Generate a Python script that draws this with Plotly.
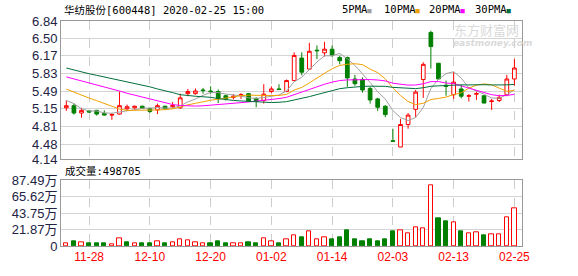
import plotly.graph_objects as go

# ---------------- data ----------------
dates = [
    "2019-11-25", "2019-11-26", "2019-11-27", "2019-11-28", "2019-11-29",
    "2019-12-02", "2019-12-03", "2019-12-04", "2019-12-05", "2019-12-06",
    "2019-12-09", "2019-12-10", "2019-12-11", "2019-12-12", "2019-12-13",
    "2019-12-16", "2019-12-17", "2019-12-18", "2019-12-19", "2019-12-20",
    "2019-12-23", "2019-12-24", "2019-12-25", "2019-12-26", "2019-12-27",
    "2019-12-30", "2019-12-31", "2020-01-02", "2020-01-03", "2020-01-06",
    "2020-01-07", "2020-01-08", "2020-01-09", "2020-01-10", "2020-01-13",
    "2020-01-14", "2020-01-15", "2020-01-16", "2020-01-17", "2020-01-20",
    "2020-01-21", "2020-01-22", "2020-01-23", "2020-02-03", "2020-02-04",
    "2020-02-05", "2020-02-06", "2020-02-07", "2020-02-10", "2020-02-11",
    "2020-02-12", "2020-02-13", "2020-02-14", "2020-02-17", "2020-02-18",
    "2020-02-19", "2020-02-20", "2020-02-21", "2020-02-24", "2020-02-25",
]
open_ = [5.17, 5.21, 5.07, 5.11, 5.12, 5.06, 5.03, 5.05, 5.15, 5.17,
         5.20, 5.15, 5.13, 5.20, 5.19, 5.17, 5.44, 5.44, 5.51, 5.49,
         5.48, 5.40, 5.37, 5.40, 5.44, 5.35, 5.31, 5.48, 5.53, 5.48,
         5.69, 6.12, 5.91, 6.27, 6.22, 6.29, 6.13, 6.13, 5.72, 5.71,
         5.54, 5.34, 5.20, 4.54, 4.42, 4.85, 5.14, 5.71, 6.61, 6.02,
         5.60, 5.42, 5.53, 5.39, 5.43, 5.40, 5.29, 5.31, 5.42, 5.72]
high = [5.31, 5.25, 5.17, 5.13, 5.13, 5.12, 5.07, 5.48, 5.23, 5.21,
        5.21, 5.17, 5.25, 5.21, 5.28, 5.44, 5.53, 5.54, 5.55, 5.58,
        5.52, 5.42, 5.43, 5.45, 5.45, 5.37, 5.62, 5.58, 5.62, 5.71,
        6.23, 6.23, 6.41, 6.36, 6.43, 6.36, 6.17, 6.15, 5.80, 5.75,
        5.57, 5.36, 5.22, 4.77, 4.96, 5.07, 5.51, 6.04, 6.64, 6.03,
        5.69, 5.85, 5.61, 5.43, 5.48, 5.40, 5.34, 5.42, 5.80, 6.10]
low = [5.11, 5.04, 4.98, 5.07, 5.02, 5.02, 4.94, 5.04, 5.11, 5.14,
       5.15, 5.07, 5.05, 5.14, 5.17, 5.15, 5.39, 5.42, 5.44, 5.44,
       5.26, 5.31, 5.33, 5.34, 5.29, 5.18, 5.25, 5.45, 5.51, 5.47,
       5.68, 5.79, 5.90, 6.10, 6.15, 6.14, 6.00, 5.57, 5.59, 5.46,
       5.25, 5.11, 4.99, 4.52, 4.42, 4.77, 4.99, 5.36, 5.92, 5.71,
       5.40, 5.34, 5.35, 5.29, 5.32, 5.26, 5.13, 5.28, 5.39, 5.59]
close = [5.21, 5.07, 5.12, 5.09, 5.05, 5.03, 5.04, 5.21, 5.19, 5.20,
         5.16, 5.10, 5.21, 5.15, 5.21, 5.36, 5.48, 5.49, 5.50, 5.48,
         5.35, 5.34, 5.39, 5.42, 5.30, 5.29, 5.43, 5.53, 5.52, 5.69,
         6.17, 5.85, 6.25, 6.26, 6.29, 6.17, 6.07, 5.74, 5.63, 5.51,
         5.32, 5.18, 5.04, 4.53, 4.85, 5.03, 5.47, 6.00, 6.34, 5.72,
         5.58, 5.66, 5.39, 5.40, 5.44, 5.26, 5.30, 5.37, 5.72, 5.93]
volume = [42000, 68000, 55000, 30000, 30000, 30000, 25000, 102000, 55000, 38000,
          42000, 42000, 64000, 30000, 55000, 89000, 76000, 55000, 38000, 30000,
          68000, 42000, 38000, 38000, 55000, 42000, 102000, 68000, 42000, 89000,
          140000, 117000, 202000, 87000, 115000, 91000, 117000, 204000, 91000, 66000,
          91000, 66000, 91000, 193000, 215000, 164000, 253000, 240000, 811000, 372000,
          334000, 317000, 191000, 164000, 178000, 142000, 151000, 151000, 380000, 498705]
ma5 = [5.31, 5.25, 5.15, 5.11, 5.108, 5.072, 5.066, 5.084, 5.104, 5.134,
       5.16, 5.172, 5.172, 5.164, 5.166, 5.206, 5.282, 5.338, 5.408, 5.462,
       5.46, 5.432, 5.412, 5.396, 5.36, 5.348, 5.366, 5.394, 5.414, 5.492,
       5.668, 5.752, 5.896, 6.044, 6.164, 6.164, 6.208, 6.106, 5.98, 5.824,
       5.654, 5.476, 5.336, 5.116, 4.984, 4.926, 4.984, 5.176, 5.538, 5.712,
       5.822, 5.86, 5.738, 5.55, 5.494, 5.43, 5.358, 5.354, 5.418, 5.516]
ma10 = [5.527, 5.465, 5.404, 5.355, 5.306, 5.257, 5.195, 5.146, 5.12, 5.121,
        5.116, 5.119, 5.128, 5.134, 5.15, 5.183, 5.227, 5.255, 5.286, 5.314,
        5.333, 5.357, 5.375, 5.402, 5.411, 5.404, 5.399, 5.403, 5.405, 5.426,
        5.508, 5.559, 5.645, 5.729, 5.828, 5.916, 5.98, 6.001, 6.012, 5.994,
        5.909, 5.842, 5.721, 5.548, 5.404, 5.29, 5.23, 5.256, 5.327, 5.348,
        5.374, 5.422, 5.457, 5.544, 5.603, 5.626, 5.609, 5.546, 5.484, 5.505]
ma20 = [5.76, 5.723, 5.68, 5.643, 5.607, 5.564, 5.527, 5.49, 5.447, 5.41,
        5.373, 5.33, 5.294, 5.257, 5.232, 5.214, 5.205, 5.203, 5.208, 5.218,
        5.225, 5.238, 5.252, 5.268, 5.281, 5.294, 5.313, 5.329, 5.346, 5.37,
        5.421, 5.458, 5.51, 5.566, 5.62, 5.66, 5.69, 5.702, 5.709, 5.71,
        5.709, 5.701, 5.683, 5.639, 5.616, 5.603, 5.605, 5.629, 5.67, 5.671,
        5.642, 5.632, 5.589, 5.546, 5.504, 5.458, 5.42, 5.401, 5.406, 5.427]
ma30 = [5.93, 5.89, 5.86, 5.82, 5.79, 5.76, 5.73, 5.70, 5.66, 5.63,
        5.60, 5.57, 5.53, 5.50, 5.46, 5.42, 5.40, 5.39, 5.38, 5.37,
        5.345, 5.325, 5.31, 5.30, 5.29, 5.28, 5.275, 5.27, 5.275, 5.287,
        5.319, 5.345, 5.383, 5.422, 5.463, 5.501, 5.535, 5.553, 5.568, 5.578,
        5.583, 5.586, 5.58, 5.56, 5.548, 5.537, 5.536, 5.553, 5.581, 5.589,
        5.597, 5.608, 5.608, 5.607, 5.612, 5.611, 5.606, 5.601, 5.608, 5.616]

price_tick_vals = [6.828, 6.5025, 6.165, 5.8275, 5.49, 5.1525, 4.815, 4.4775, 4.188]
price_tick_text = ["6.84", "6.50", "6.17", "5.83", "5.49", "5.15", "4.81", "4.48", "4.14"]
vol_tick_vals = [0, 218725, 437450, 656175, 874900]
vol_tick_text = ["0", "21.87万", "43.75万", "65.62万", "87.49万"]
date_tick_idx = [3, 11, 19, 27, 35, 43, 51, 59]
title_text = "华纺股份[600448] 2020-02-25 15:00"
ma_names = ["5PMA", "10PMA", "20PMA", "30PMA"]

# ---------------- styles ----------------
RED = "#FF0000"
GREEN = "#008000"
MA_COLORS = ["#A0A0A0", "#F0A000", "#FF00FF", "#006F3C"]
GRID = "#D4D4D4"
VGRID = "#CCCCCC"
BORDER = "#999999"
LABEL = "#222244"
MONO = "DejaVu Sans Mono, Noto Sans CJK SC, monospace"
SANS = "Liberation Sans, Arial, Noto Sans CJK SC, sans-serif"

W, H = 578, 276
ML, MR, MT, MB = 55, 56, 21, 21
PW = W - ML - MR
PH = H - MT - MB


def px_x(px):
    return (px - ML) / PW


def px_y(py):
    return (H - MB - py) / PH


fig = go.Figure()

fig.add_trace(go.Candlestick(
    x=dates, open=open_, high=high, low=low, close=close,
    increasing=dict(line=dict(color=RED, width=1), fillcolor="white"),
    decreasing=dict(line=dict(color=GREEN, width=1), fillcolor=GREEN),
    whiskerwidth=0, xaxis="x", yaxis="y", hoverinfo="skip", showlegend=False,
))

for vals, col in zip([ma5, ma10, ma20, ma30], MA_COLORS):
    fig.add_trace(go.Scatter(
        x=dates, y=vals, mode="lines", line=dict(color=col, width=1),
        xaxis="x", yaxis="y", hoverinfo="skip", showlegend=False,
    ))

vol_fill, vol_line = [], []
for i in range(len(close)):
    up = (close[i] >= open_[i]) if i == 0 else (close[i] >= close[i - 1])
    vol_fill.append("white" if up else GREEN)
    vol_line.append(RED if up else GREEN)

fig.add_trace(go.Bar(
    x=dates, y=volume, width=0.56,
    marker=dict(color=vol_fill, line=dict(color=vol_line, width=1)),
    xaxis="x2", yaxis="y2", hoverinfo="skip", showlegend=False,
))

tick_dates = [dates[i] for i in date_tick_idx]
tick_labels = [dates[i][5:] for i in date_tick_idx]

common_x = dict(
    type="category", range=[-0.7, 60.0], tickvals=tick_dates,
    showgrid=True, gridcolor=VGRID, griddash="dash", gridwidth=1,
    showline=True, mirror=True, linecolor=BORDER, linewidth=1,
    zeroline=False, ticks="", fixedrange=True,
)

fig.update_layout(
    width=W, height=H,
    margin=dict(l=ML, r=MR, t=MT, b=MB, pad=0),
    paper_bgcolor="white", plot_bgcolor="white",
    showlegend=False, hovermode=False,
    bargap=0,
    xaxis=dict(common_x, anchor="y", domain=[0, 1], showticklabels=False,
               rangeslider=dict(visible=False)),
    xaxis2=dict(common_x, anchor="y2", domain=[0, 1], ticktext=tick_labels,
                showticklabels=True, tickfont=dict(family=SANS, size=12, color=RED)),
    yaxis=dict(domain=[px_y(164.7), 1.0], range=[4.188, 6.828],
               tickvals=price_tick_vals, ticktext=price_tick_text,
               showgrid=True, gridcolor=GRID, gridwidth=1,
               showline=True, mirror=True, linecolor=BORDER, linewidth=1,
               zeroline=False, ticks="", fixedrange=True,
               tickfont=dict(family=SANS, size=13, color=LABEL)),
    yaxis2=dict(domain=[0, px_y(186.7)], range=[0, 874900],
                tickvals=vol_tick_vals, ticktext=vol_tick_text,
                showgrid=True, gridcolor=GRID, gridwidth=1,
                showline=True, mirror=True, linecolor=BORDER, linewidth=1,
                zeroline=False, ticks="", fixedrange=True,
                tickfont=dict(family=SANS, size=13, color=LABEL)),
)

annotations = [
    dict(text=title_text, x=px_x(56), y=px_y(9.5), xref="paper", yref="paper",
         xanchor="left", yanchor="middle", showarrow=False,
         font=dict(family=MONO, size=10.5, color="#000000")),
    dict(text="成交量:" + str(volume[-1]), x=px_x(57), y=px_y(177), xref="paper",
         yref="paper", xanchor="left", yanchor="middle", showarrow=False,
         font=dict(family=MONO, size=10.5, color="#000000")),
    dict(text="东方财富网", x=px_x(451), y=px_y(29.5), xref="paper", yref="paper",
         xanchor="left", yanchor="middle", showarrow=False,
         font=dict(family="Noto Sans CJK SC", size=13, color="#DADADA")),
    dict(text="<b><i>eastmoney.com</i></b>", x=px_x(450), y=px_y(43.5), xref="paper",
         yref="paper", xanchor="left", yanchor="middle", showarrow=False,
         font=dict(family="DejaVu Sans", size=9, color="#DADADA")),
]
legend_x = [338, 380, 426, 472]
for name, col, lx in zip(ma_names, MA_COLORS, legend_x):
    annotations.append(dict(
        text=name + "<span style='color:%s;font-size:7px'>■</span>" % col,
        x=px_x(lx), y=px_y(8.5), xref="paper", yref="paper",
        xanchor="left", yanchor="middle", showarrow=False,
        font=dict(family=MONO, size=10.5, color="#000000"),
    ))
fig.update_layout(annotations=annotations)

fig.write_html("out.html")
